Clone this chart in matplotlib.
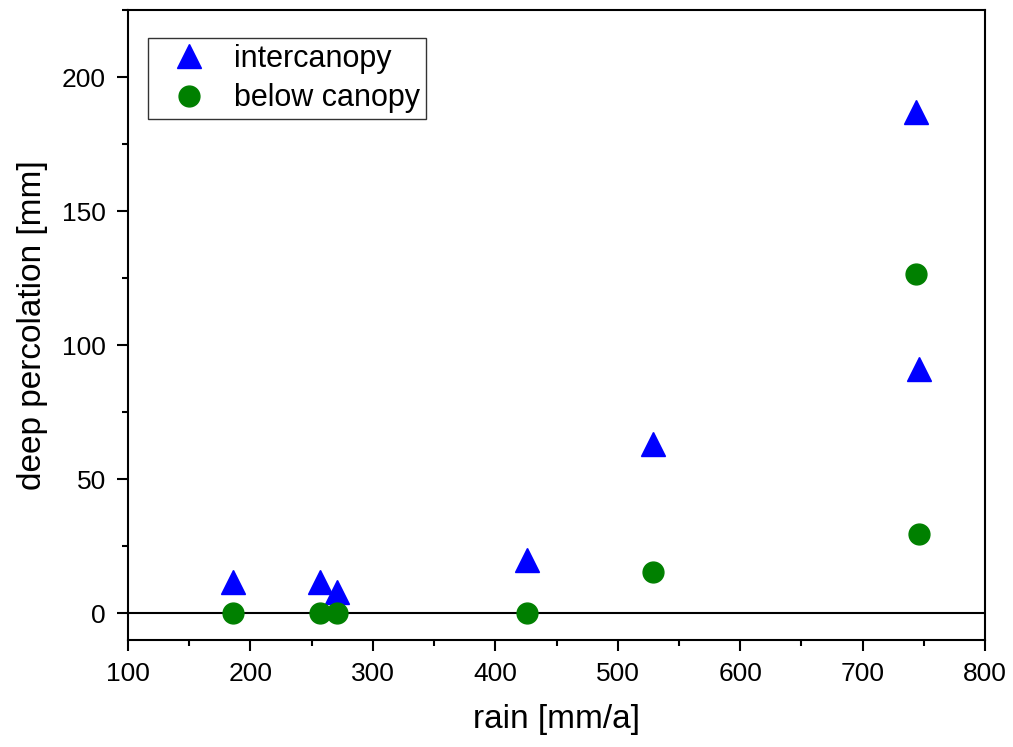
import matplotlib.pyplot as plt

plt.rcParams['font.family'] = ['Liberation Sans', 'DejaVu Sans']

# data
rain_inter = [186, 257, 271, 426, 529, 744, 746]
perc_inter = [11.5, 11.5, 8.0, 20.0, 63.0, 187.0, 91.0]
rain_below = [186, 257, 271, 426, 529, 744, 746]
perc_below = [0.0, 0.0, 0.0, 0.0, 15.5, 126.5, 29.5]

fig = plt.figure(figsize=(10.13, 7.47), dpi=100)
ax = fig.add_axes([0.1264, 0.1432, 0.846, 0.8434])

ax.axhline(0, color='black', linewidth=1.5, zorder=1)
ax.plot(rain_inter, perc_inter, linestyle='none', marker='^', markersize=17,
        color='blue', label='intercanopy', zorder=3)
ax.plot(rain_below, perc_below, linestyle='none', marker='o', markersize=15,
        color='green', label='below canopy', zorder=3)

ax.set_xlim(100, 800)
ax.set_ylim(-10, 225)
ax.set_xticks(range(100, 801, 100))
ax.set_xticks(range(150, 800, 100), minor=True)
ax.set_yticks([0, 50, 100, 150, 200])
ax.set_yticks([25, 75, 125, 175, 225], minor=True)

for s in ax.spines.values():
    s.set_linewidth(1.5)
ax.tick_params(which='both', direction='out', width=1.5, labelsize=19,
               top=False, right=False)
ax.tick_params(which='major', length=8, pad=8)
ax.tick_params(which='minor', length=4.5)

ax.set_xlabel('rain [mm/a]', fontsize=24, labelpad=13)
ax.set_ylabel('deep percolation [mm]', fontsize=24, labelpad=10)

leg = ax.legend(loc='upper left', bbox_to_anchor=(0.0233, 0.9556),
                borderaxespad=0, fontsize=22, frameon=True, fancybox=False,
                edgecolor='black', handletextpad=0.3, handlelength=2.3,
                labelspacing=0.3, borderpad=0.2)
leg.get_frame().set_linewidth(1.0)

fig.savefig('out.png', dpi=100)
